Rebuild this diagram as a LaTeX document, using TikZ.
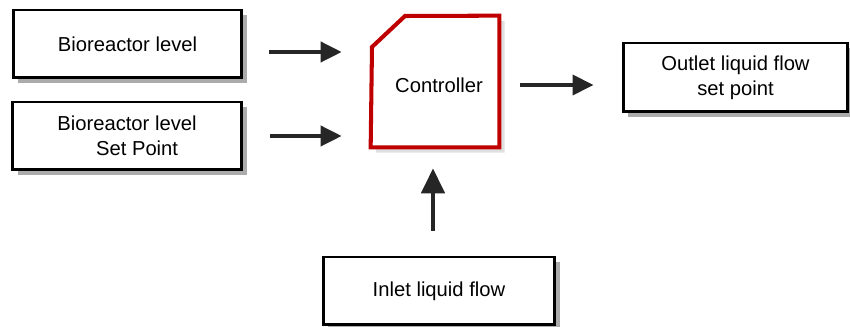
\documentclass[tikz,border=0pt]{standalone}
\usepackage{fontspec}
\setmainfont{Liberation Sans}
\usetikzlibrary{arrows.meta,shadows}

\tikzset{
  blockbox/.style={draw=black, line width=1.7pt, fill=white, align=center,
    minimum width=4.58cm, minimum height=1.36cm, inner sep=0pt,
    drop shadow={shadow xshift=3pt, shadow yshift=-3pt, fill=black!55, opacity=.6}},
  flowarrow/.style={line width=2.2pt, black!85, -{Triangle[length=0.42cm, width=0.4cm]}},
}

\begin{document}
\begin{tikzpicture}[x=0.02cm, y=-0.02cm, font=\fontsize{11.5}{14}\selectfont]
  \useasboundingbox (0,0) rectangle (850,327);

  % Input and output blocks
  \node[blockbox] (level) at (127.5,44) {Bioreactor level};
  \node[blockbox] (setpt) at (127,136) {Bioreactor level\\\quad Set Point};
  \node[blockbox, minimum width=4.5cm, minimum height=1.38cm] (outlet) at (735.5,77.5) {Outlet liquid flow\\set point};
  \node[blockbox, minimum width=4.64cm] (inlet) at (439,291) {Inlet liquid flow};

  % Controller with a cut corner
  \node[minimum width=2.56cm, minimum height=2.62cm, inner sep=0pt] (ctrl) at (435,81.5) {};
  \fill[black!20, opacity=.6] ([xshift=3pt,yshift=-3pt]ctrl.south west) -- ([xshift=3pt,yshift=-3pt]ctrl.south east)
     -- ([xshift=3pt,yshift=-3pt]ctrl.north east) -- ([xshift=3pt,yshift=-3pt]405,16)
     -- ([xshift=3pt,yshift=-3pt]372,47) -- cycle;
  \draw[red!75!black, line width=2.3pt, fill=white, line join=miter]
     (ctrl.south west) -- (ctrl.south east) -- (ctrl.north east) -- (405,16) -- (372,47) -- cycle;
  \node at (439,85) {Controller};

  % Connectors
  \draw[flowarrow] ([xshift=0.52cm, yshift=-0.16cm]level.east) -- ([xshift=-0.58cm, yshift=-0.16cm]level.east -| ctrl.west);
  \draw[flowarrow] ([xshift=0.54cm]setpt.east) -- ([xshift=-0.58cm]setpt.east -| ctrl.west);
  \draw[flowarrow] ([xshift=0.42cm, yshift=-0.07cm]ctrl.east) -- ([xshift=-0.56cm, yshift=-0.07cm]ctrl.east -| outlet.west);
  \draw[flowarrow, line width=2.8pt, -{Triangle[length=0.5cm, width=0.46cm]}]
     ([xshift=-0.12cm, yshift=0.5cm]inlet.north) -- ([xshift=-0.12cm, yshift=-0.42cm]inlet.north |- ctrl.south);
\end{tikzpicture}
\end{document}
